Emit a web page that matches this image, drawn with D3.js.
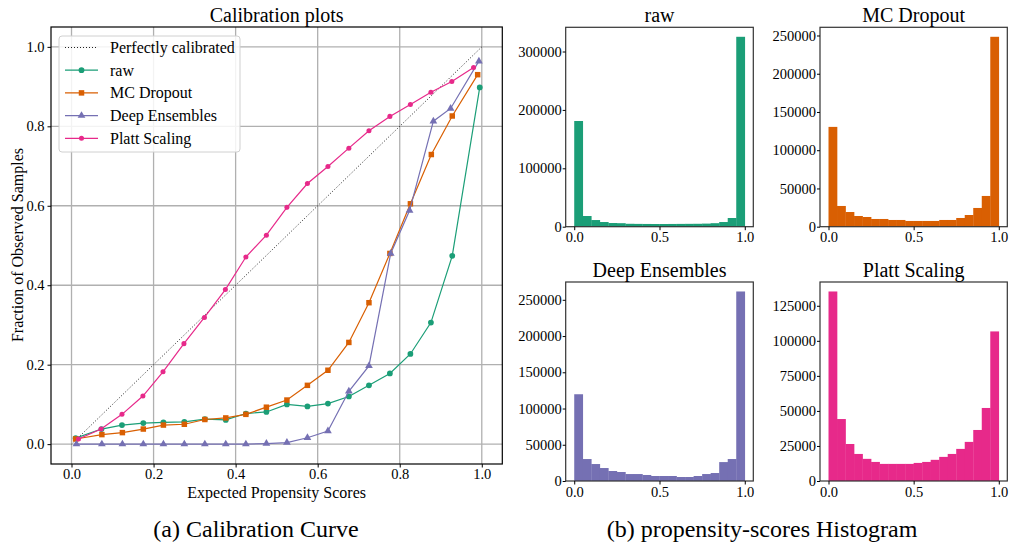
<!DOCTYPE html>
<html>
<head>
<meta charset="utf-8">
<script src="https://d3js.org/d3.v7.min.js"></script>
<style>
  body { margin: 0; background: #fff; }
  svg { font-family: "Liberation Serif", "Times New Roman", serif; }
</style>
</head>
<body>
<svg id="chart" width="1009" height="546"></svg>
<script>
// calibration curves: mean predicted value (x) vs fraction of positives (y)
const rawX = [0.01, 0.073, 0.123, 0.175, 0.224, 0.275, 0.325, 0.376, 0.425, 0.475, 0.525, 0.575, 0.625, 0.676, 0.725, 0.776, 0.826, 0.876, 0.928, 0.995];
const rawY = [0.015, 0.038, 0.048, 0.053, 0.055, 0.056, 0.063, 0.061, 0.077, 0.081, 0.1, 0.095, 0.102, 0.12, 0.148, 0.178, 0.227, 0.306, 0.474, 0.898];
const mcX = [0.01, 0.074, 0.124, 0.175, 0.224, 0.275, 0.325, 0.376, 0.425, 0.475, 0.525, 0.575, 0.625, 0.676, 0.725, 0.776, 0.826, 0.877, 0.928, 0.99];
const mcY = [0.013, 0.024, 0.029, 0.038, 0.048, 0.05, 0.062, 0.066, 0.075, 0.093, 0.111, 0.148, 0.186, 0.256, 0.356, 0.48, 0.605, 0.729, 0.826, 0.93];
const deX = [0.012, 0.074, 0.124, 0.175, 0.224, 0.275, 0.325, 0.376, 0.425, 0.475, 0.525, 0.575, 0.625, 0.676, 0.725, 0.778, 0.824, 0.882, 0.924, 0.993];
const deY = [0, 0, 0, 0, 0, 0, 0, 0, 0, 0.0015, 0.004, 0.016, 0.033, 0.133, 0.197, 0.48, 0.588, 0.813, 0.845, 0.964];
const plattX = [0.017, 0.072, 0.123, 0.174, 0.223, 0.274, 0.324, 0.375, 0.425, 0.475, 0.525, 0.575, 0.625, 0.676, 0.725, 0.776, 0.826, 0.876, 0.927, 0.98];
const plattY = [0.013, 0.038, 0.075, 0.121, 0.182, 0.253, 0.319, 0.389, 0.471, 0.526, 0.596, 0.656, 0.699, 0.745, 0.789, 0.825, 0.855, 0.886, 0.913, 0.948];

// histogram counts, 20 bins of width 0.05
const binEdges = d3.range(0, 1.0001, 0.05);
const rawCounts = [181000, 18300, 11400, 8000, 6300, 6000, 5000, 4800, 4700, 4600, 4600, 4700, 4800, 4900, 5000, 5300, 6000, 8000, 14900, 325200];
const mcCounts = [130500, 27100, 19200, 14000, 12700, 10100, 10100, 8800, 8800, 7500, 7500, 7500, 7500, 8800, 8800, 11400, 15300, 24500, 40200, 248300];
const deCounts = [119700, 30300, 23400, 17900, 13800, 12400, 9600, 9600, 8300, 6900, 6900, 6900, 5500, 5500, 6900, 9600, 11000, 26100, 30300, 261500];
const plattCounts = [135200, 44200, 26400, 19300, 15800, 13600, 12200, 12200, 12200, 12200, 12900, 13600, 15100, 17200, 19300, 22900, 27900, 36400, 52100, 106700];

const calibTicks = [0.0, 0.2, 0.4, 0.6, 0.8, 1.0];
const histXTicks = [0.0, 0.5, 1.0];

const colors = {raw: "#1b9e77", mc: "#d95f02", de: "#7570b3", platt: "#e7298a"};

const svg = d3.select("#chart");

// ---------- left: calibration plot ----------
const x = d3.scaleLinear().domain([-0.05, 1.05]).range([51, 502.3]);
const y = d3.scaleLinear().domain([-0.05, 1.05]).range([464, 27]);

const left = svg.append("g");

// grid
left.append("g").selectAll("line").data(calibTicks).join("line")
  .attr("x1", d => x(d)).attr("x2", d => x(d))
  .attr("y1", y.range()[0]).attr("y2", y.range()[1])
  .attr("stroke", "#b0b0b0").attr("stroke-width", 1.3);
left.append("g").selectAll("line").data(calibTicks).join("line")
  .attr("y1", d => y(d)).attr("y2", d => y(d))
  .attr("x1", x.range()[0]).attr("x2", x.range()[1])
  .attr("stroke", "#b0b0b0").attr("stroke-width", 1.3);

// perfectly calibrated
left.append("line")
  .attr("x1", x(0)).attr("y1", y(0)).attr("x2", x(1)).attr("y2", y(1))
  .attr("stroke", "#222").attr("stroke-width", 1).attr("stroke-dasharray", "1,2");

const series = [
  {name: "raw", xs: rawX, ys: rawY, color: colors.raw, sym: d3.symbolCircle, size: 26},
  {name: "MC Dropout", xs: mcX, ys: mcY, color: colors.mc, sym: d3.symbolSquare, size: 30},
  {name: "Deep Ensembles", xs: deX, ys: deY, color: colors.de, sym: d3.symbolTriangle, size: 26},
  {name: "Platt Scaling", xs: plattX, ys: plattY, color: colors.platt, sym: d3.symbolCircle, size: 20}
];

const line = d3.line().x(d => x(d[0])).y(d => y(d[1]));

series.forEach(s => {
  const pts = s.xs.map((v, i) => [v, s.ys[i]]);
  const g = left.append("g");
  g.append("path").datum(pts)
    .attr("d", line).attr("fill", "none")
    .attr("stroke", s.color).attr("stroke-width", 1.2);
  g.selectAll("path.m").data(pts).join("path")
    .attr("class", "m")
    .attr("transform", d => `translate(${x(d[0])},${y(d[1])})`)
    .attr("d", d3.symbol().type(s.sym).size(s.size))
    .attr("fill", s.color);
});

// frame
left.append("rect")
  .attr("x", x.range()[0]).attr("y", y.range()[1])
  .attr("width", x.range()[1] - x.range()[0]).attr("height", y.range()[0] - y.range()[1])
  .attr("fill", "none").attr("stroke", "#000").attr("stroke-width", 1.2);

// axes
const xAxisL = left.append("g").attr("transform", `translate(0,${y.range()[0]})`)
  .call(d3.axisBottom(x).tickValues(calibTicks).tickFormat(d3.format(".1f")).tickSize(3.5).tickPadding(1.5));
const yAxisL = left.append("g").attr("transform", `translate(${x.range()[0]},0)`)
  .call(d3.axisLeft(y).tickValues(calibTicks).tickFormat(d3.format(".1f")).tickSize(3.5).tickPadding(3));
[xAxisL, yAxisL].forEach(a => {
  a.select(".domain").remove();
  a.selectAll("text").attr("font-size", 14.5).attr("fill", "#000")
    .attr("font-family", "Liberation Serif");
  a.selectAll("line").attr("stroke", "#000");
});

left.append("text").attr("x", (x.range()[0] + x.range()[1]) / 2).attr("y", 22)
  .attr("text-anchor", "middle").attr("font-size", 20).text("Calibration plots");
left.append("text").attr("x", (x.range()[0] + x.range()[1]) / 2).attr("y", 498)
  .attr("text-anchor", "middle").attr("font-size", 16).text("Expected Propensity Scores");
left.append("text").attr("transform", "translate(23,245) rotate(-90)")
  .attr("text-anchor", "middle").attr("font-size", 16).text("Fraction of Observed Samples");

// legend
const legend = left.append("g");
legend.append("rect").attr("x", 59).attr("y", 36).attr("width", 181).attr("height", 116)
  .attr("rx", 3).attr("fill", "#fff").attr("fill-opacity", 0.85)
  .attr("stroke", "#d0d0d0").attr("stroke-width", 1);
const legItems = [{name: "Perfectly calibrated", color: "#222", dotted: true}].concat(series);
legItems.forEach((s, i) => {
  const ly = 47.5 + i * 22.7;
  legend.append("line").attr("x1", 65).attr("x2", 98).attr("y1", ly).attr("y2", ly)
    .attr("stroke", s.color).attr("stroke-width", s.dotted ? 1 : 1.2)
    .attr("stroke-dasharray", s.dotted ? "1,2" : null);
  if (!s.dotted) {
    legend.append("path").attr("transform", `translate(81.5,${ly})`)
      .attr("d", d3.symbol().type(s.sym).size(s.size)).attr("fill", s.color);
  }
  legend.append("text").attr("x", 110).attr("y", ly + 5.5).attr("font-size", 16).text(s.name);
});

left.append("text").attr("x", 256).attr("y", 537).attr("text-anchor", "middle")
  .attr("font-size", 24).text("(a) Calibration Curve");

// ---------- right: histograms ----------
const panels = [
  {title: "raw", counts: rawCounts, color: colors.raw, x0: 565.7, x1: 753.3, y0: 226.7, y1: 27.3, ticks: [0, 100000, 200000, 300000], titleY: 22},
  {title: "MC Dropout", counts: mcCounts, color: colors.mc, x0: 820, x1: 1007.3, y0: 226.7, y1: 27.3, ticks: d3.range(0, 250001, 50000), titleY: 22},
  {title: "Deep Ensembles", counts: deCounts, color: colors.de, x0: 565.7, x1: 753.3, y0: 481, y1: 282, ticks: d3.range(0, 250001, 50000), titleY: 277},
  {title: "Platt Scaling", counts: plattCounts, color: colors.platt, x0: 820, x1: 1007.3, y0: 481, y1: 282, ticks: d3.range(0, 125001, 25000), titleY: 277}
];

panels.forEach(p => {
  const g = svg.append("g");
  const hx = d3.scaleLinear().domain([-0.05, 1.05]).range([p.x0, p.x1]);
  const hy = d3.scaleLinear().domain([0, d3.max(p.counts) * 1.05]).range([p.y0, p.y1]);
  const bins = p.counts.map((c, i) => ({lo: binEdges[i], hi: binEdges[i + 1], c}));

  g.selectAll("rect.bar").data(bins).join("rect")
    .attr("class", "bar")
    .attr("x", d => hx(d.lo)).attr("width", d => hx(d.hi) - hx(d.lo) + 0.3)
    .attr("y", d => hy(d.c)).attr("height", d => hy(0) - hy(d.c))
    .attr("fill", p.color);

  g.append("rect").attr("x", p.x0).attr("y", p.y1)
    .attr("width", p.x1 - p.x0).attr("height", p.y0 - p.y1)
    .attr("fill", "none").attr("stroke", "#333").attr("stroke-width", 1.2);

  const ax = g.append("g").attr("transform", `translate(0,${p.y0})`)
    .call(d3.axisBottom(hx).tickValues(histXTicks).tickFormat(d3.format(".1f")).tickSize(3.5).tickPadding(2));
  const ay = g.append("g").attr("transform", `translate(${p.x0},0)`)
    .call(d3.axisLeft(hy).tickValues(p.ticks).tickFormat(d3.format("d")).tickSize(3).tickPadding(1));
  [ax, ay].forEach(a => {
    a.select(".domain").remove();
    a.selectAll("text").attr("font-size", 14.5).attr("fill", "#000")
      .attr("font-family", "Liberation Serif");
    a.selectAll("line").attr("stroke", "#000");
  });

  g.append("text").attr("x", (p.x0 + p.x1) / 2).attr("y", p.titleY)
    .attr("text-anchor", "middle").attr("font-size", 20).text(p.title);
});

svg.append("text").attr("x", 762).attr("y", 537).attr("text-anchor", "middle")
  .attr("font-size", 24).text("(b) propensity-scores Histogram");
</script>
</body>
</html>
